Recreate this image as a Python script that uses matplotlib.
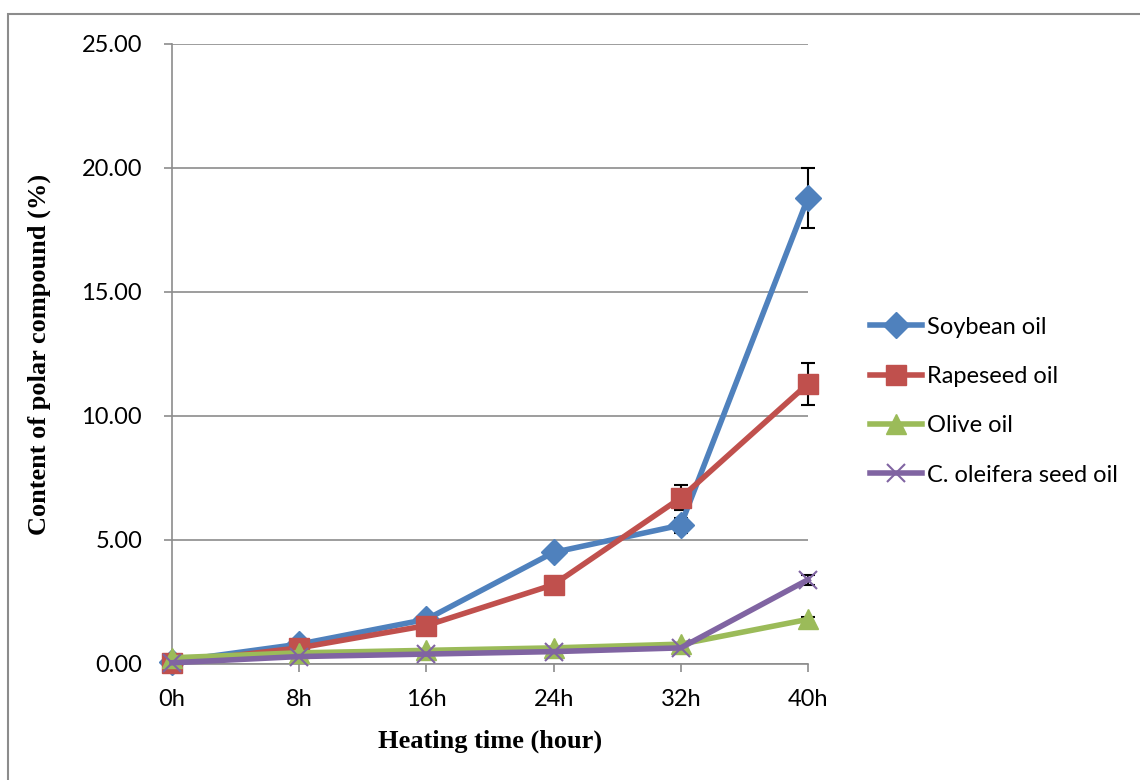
import matplotlib
matplotlib.use("Agg")
import matplotlib.pyplot as plt
from matplotlib.patches import Rectangle

hours = ["0h", "8h", "16h", "24h", "32h", "40h"]

soybean = [0.10, 0.80, 1.80, 4.50, 5.60, 18.80]
soybean_err = [0.05, 0.05, 0.08, 0.10, 0.30, 1.20]
rapeseed = [0.05, 0.65, 1.55, 3.20, 6.70, 11.30]
rapeseed_err = [0.05, 0.05, 0.08, 0.10, 0.50, 0.85]
olive = [0.25, 0.45, 0.55, 0.65, 0.80, 1.80]
olive_err = [0.02, 0.03, 0.03, 0.03, 0.05, 0.10]
oleifera = [0.05, 0.30, 0.40, 0.50, 0.65, 3.40]
oleifera_err = [0.02, 0.03, 0.03, 0.03, 0.05, 0.20]

series = [
    ("Soybean oil", soybean, soybean_err, "#4F81BD", "D", 13),
    ("Rapeseed oil", rapeseed, rapeseed_err, "#C0504D", "s", 14),
    ("Olive oil", olive, olive_err, "#9BBB59", "^", 14),
    ("C. oleifera seed oil", oleifera, oleifera_err, "#8064A2", "x", 13),
]

tick_font = "Lato"
grid_col = "#8C8C8C"

fig = plt.figure(figsize=(11.4, 7.8), dpi=100)
ax = fig.add_axes([172 / 1140, 1 - 664 / 780, (808 - 172) / 1140, (664 - 44) / 780])

x = list(range(len(hours)))
for name, vals, err, col, mk, ms in series:
    eb = ax.errorbar(x, vals, yerr=err, fmt="none", ecolor="black", elinewidth=1.5,
                     capsize=5, capthick=1.5, zorder=2)
    for art in eb.get_children():
        art.set_clip_on(False)
    kw = dict(markeredgewidth=1.5) if mk == "x" else dict(markeredgecolor=col)
    ax.plot(x, vals, color=col, lw=4.0, marker=mk, markersize=ms,
            markerfacecolor=col, label=name, zorder=3, clip_on=False, **kw)

ax.set_xlim(0, len(hours) - 1)
ax.set_ylim(0, 25)
ax.set_yticks([0, 5, 10, 15, 20, 25])
ax.set_yticklabels([f"{v:.2f}" for v in [0, 5, 10, 15, 20, 25]],
                   fontfamily=tick_font, fontsize=17)
ax.set_xticks(x)
ax.set_xticklabels(hours, fontfamily=tick_font, fontsize=17)
ax.yaxis.grid(True, color=grid_col, lw=1.2)
ax.set_axisbelow(True)
ax.tick_params(axis="both", direction="out", length=6, color=grid_col, width=1.2)
ax.tick_params(axis="y", pad=15.5)
ax.tick_params(axis="x", pad=12)
for s in ["top", "right"]:
    ax.spines[s].set_visible(False)
for s in ["left", "bottom"]:
    ax.spines[s].set_color(grid_col)
    ax.spines[s].set_linewidth(1.2)

ax.set_xlabel("Heating time (hour)", fontfamily="Liberation Serif",
              fontweight="bold", fontsize=19, labelpad=14)
ax.set_ylabel("Content of polar compound (%)", fontfamily="Liberation Serif",
              fontweight="bold", fontsize=19, labelpad=22)

leg = ax.legend(loc="center left", bbox_to_anchor=(1.064, 0.424), frameon=False,
                prop={"family": tick_font, "size": 17}, handlelength=2.2,
                handletextpad=0.2, labelspacing=1.2)

fig.patches.append(Rectangle((8 / 1140, -0.2), 1.2, 1.2 - 14 / 780, transform=fig.transFigure,
                             fill=False, edgecolor=grid_col, lw=1.5))

fig.savefig("out.png", dpi=100)
